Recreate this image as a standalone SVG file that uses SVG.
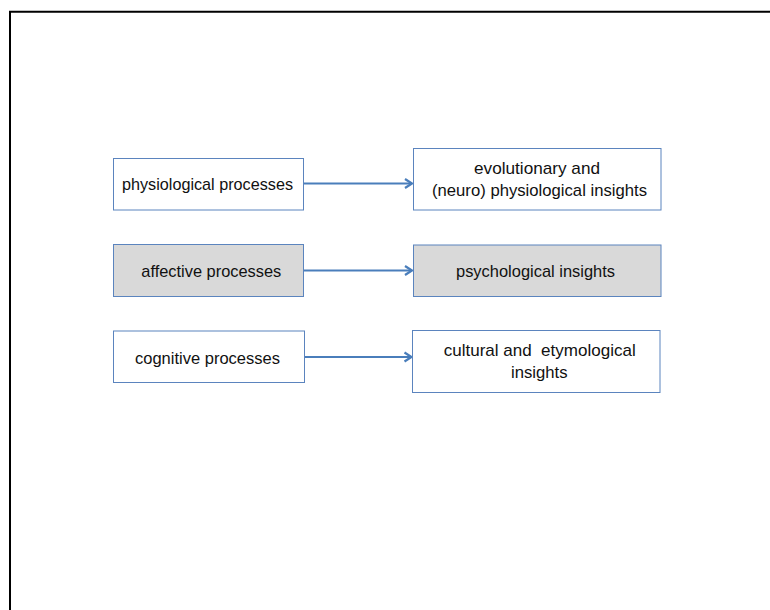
<svg xmlns="http://www.w3.org/2000/svg" width="770" height="610" viewBox="0 0 770 610">
<defs>
<style>
.box{stroke:#5B84BE;stroke-width:1;fill:#FFFFFF}
.gray{fill:#D9D9D9}
.lbl{font-family:"Liberation Sans",Arial,sans-serif;font-size:17px;fill:#111111;text-anchor:middle}
.conn{stroke:#4A7EBB;stroke-width:2.2;fill:none}
</style>
<marker id="arr" markerUnits="userSpaceOnUse" markerWidth="12" markerHeight="12" refX="9" refY="6" orient="auto" viewBox="0 0 12 12">
<path d="M2,1.5 L9,6 L2,10.5" fill="none" stroke="#4A7EBB" stroke-width="2.2"/>
</marker>
</defs>
<rect x="0" y="0" width="770" height="610" fill="#FFFFFF"/>
<path d="M10,610 V11.8 H770" fill="none" stroke="#000000" stroke-width="2"/>
<g id="connectors">
<line class="conn" x1="304" y1="183.5" x2="412" y2="183.5" marker-end="url(#arr)"/>
<line class="conn" x1="304" y1="270.5" x2="412" y2="270.5" marker-end="url(#arr)"/>
<line class="conn" x1="304.5" y1="357" x2="411.5" y2="357" marker-end="url(#arr)"/>
</g>
<g id="physiological">
<rect class="box" x="113.5" y="158.5" width="190" height="51.5"/>
<text class="lbl" x="207.5" y="190" textLength="171" lengthAdjust="spacingAndGlyphs">physiological processes</text>
</g>
<g id="affective">
<rect class="box gray" x="113.5" y="244.5" width="190" height="52"/>
<text class="lbl" x="211.3" y="276.5" textLength="140" lengthAdjust="spacingAndGlyphs">affective processes</text>
</g>
<g id="cognitive">
<rect class="box" x="113.5" y="331" width="191" height="51.5"/>
<text class="lbl" x="207.5" y="364" textLength="145" lengthAdjust="spacingAndGlyphs">cognitive processes</text>
</g>
<g id="evolutionary">
<rect class="box" x="413.5" y="148.5" width="247.5" height="61.5"/>
<text class="lbl" x="537" y="173.5" textLength="126" lengthAdjust="spacingAndGlyphs">evolutionary and</text>
<text class="lbl" x="539.5" y="195.5" textLength="215" lengthAdjust="spacingAndGlyphs">(neuro) physiological insights</text>
</g>
<g id="psychological">
<rect class="box gray" x="413.5" y="245" width="247.5" height="51.5"/>
<text class="lbl" x="535.5" y="276.5" textLength="159" lengthAdjust="spacingAndGlyphs">psychological insights</text>
</g>
<g id="cultural">
<rect class="box" x="412.5" y="330.5" width="247.5" height="62"/>
<text class="lbl" x="539.7" y="356" textLength="192" lengthAdjust="spacingAndGlyphs" xml:space="preserve">cultural and  etymological</text>
<text class="lbl" x="539.3" y="377.5" textLength="56.5" lengthAdjust="spacingAndGlyphs">insights</text>
</g>
</svg>
